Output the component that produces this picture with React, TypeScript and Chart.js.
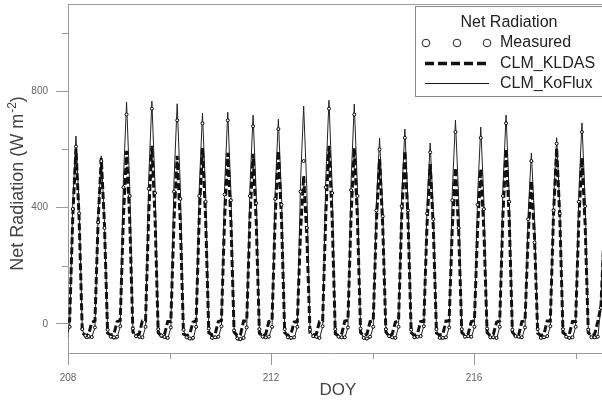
import React, { useEffect, useRef } from "react";
import { Chart, registerables } from "chart.js";

Chart.register(...registerables);

// Time grid: 3-hourly samples, one cycle = 8 samples
const T0 = 207.908;
const STEP = 0.0623;

// values per cycle at [-12h, -9h, -6h, -3h, noon, +3h, +6h, +9h]
const koflux: number[] = [
  -50, -48, -10, 420, 646, 400, -20, -50,
  -50, -46, -12, 376, 578, 358, -22, -48,
  -52, -50, -8, 496, 763, 473, -18, -46,
  -48, -50, -10, 498, 766, 475, -20, -44,
  -50, -52, -12, 492, 757, 469, -22, -50,
  -54, -55, -10, 471, 725, 450, -18, -52,
  -50, -48, -8, 473, 728, 451, -24, -55,
  -58, -52, -12, 467, 718, 445, -20, -48,
  -50, -47, -10, 458, 704, 436, -20, -50,
  -52, -50, -10, 487, 749, 464, -22, -45,
  -48, -52, -8, 500, 769, 477, -20, -48,
  -50, -50, -12, 491, 756, 469, -18, -52,
  -55, -48, -10, 415, 639, 396, -20, -46,
  -50, -52, -10, 436, 670, 415, -22, -50,
  -48, -45, -8, 404, 622, 386, -20, -52,
  -52, -50, -12, 456, 701, 435, -20, -48,
  -46, -48, -10, 440, 677, 420, -18, -50,
  -50, -52, -10, 467, 718, 445, -22, -46,
  -48, -50, -12, 382, 588, 365, -20, -52,
  -50, -46, -8, 416, 640, 397, -20, -48,
  -52, -50, -10, 449, 691, 428, -22, -50,
  -50, -48, 60, 455, 700, 434, -20, -48,
];

const kldas: number[] = [
  -35, 8, 10, 373, 602, 361, -30, -40,
  -36, 6, 10, 353, 570, 342, -32, -38,
  -35, 8, 12, 369, 595, 357, -28, -40,
  -34, 10, 10, 379, 612, 367, -30, -42,
  -36, 8, 8, 358, 578, 347, -35, -40,
  -35, 6, 10, 375, 605, 363, -30, -38,
  -35, 8, 12, 365, 588, 353, -28, -40,
  -38, 10, 10, 363, 585, 351, -32, -42,
  -35, 8, 10, 369, 595, 357, -30, -40,
  -34, 6, 8, 316, 509, 305, -30, -38,
  -35, 8, 10, 379, 612, 367, -34, -40,
  -36, 10, 12, 375, 605, 363, -30, -40,
  -35, 8, 10, 352, 567, 340, -28, -42,
  -35, 6, 10, 369, 595, 357, -30, -40,
  -34, 8, 8, 341, 550, 330, -32, -38,
  -36, 10, 10, 333, 537, 322, -30, -40,
  -35, 8, 12, 330, 533, 320, -30, -40,
  -35, 6, 10, 373, 602, 361, -28, -42,
  -38, 8, 10, 305, 492, 295, -32, -40,
  -35, 10, 10, 375, 605, 363, -30, -38,
  -35, 8, 8, 354, 571, 343, -30, -40,
  -36, 8, 60, 310, 500, 300, -30, -40,
];

const measured: number[] = [
  -44, -42, -10, 395, 610, 380, -18, -40,
  -42, -45, -12, 350, 560, 330, -20, -44,
  -46, -44, -8, 470, 720, 440, -16, -42,
  -44, -46, -10, 465, 740, 450, -18, -40,
  -45, -48, -12, 455, 700, 430, -20, -46,
  -50, -48, -10, 440, 690, 420, -16, -48,
  -46, -44, -8, 445, 700, 425, -22, -50,
  -52, -48, -12, 440, 680, 415, -18, -44,
  -46, -44, -10, 430, 670, 410, -18, -46,
  -48, -46, -10, 455, 560, 330, -20, -42,
  -44, -48, -8, 470, 740, 450, -18, -44,
  -46, -46, -12, 460, 720, 440, -16, -48,
  -50, -44, -10, 390, 600, 370, -18, -42,
  -46, -48, -10, 405, 640, 390, -20, -46,
  -44, -42, -8, 380, 590, 360, -18, -48,
  -48, -46, -12, 425, 660, 330, -18, -44,
  -42, -44, -10, 410, 640, 395, -16, -46,
  -46, -48, -10, 440, 690, 420, -20, -42,
  -44, -46, -12, 360, 560, 280, -18, -48,
  -46, -42, -8, 390, 620, 380, -18, -44,
  -48, -46, -10, 420, 660, 405, -20, -46,
  -46, -44, 55, 420, 650, 400, -18, -44,
];

const xTickValues = [208, 210, 212, 214, 216, 218];
const xTickLabels = ["208", "", "212", "", "216", ""];
const yTickValues = [0, 200, 400, 600, 800, 1000];
const yTickLabels = ["0", "", "400", "", "800", ""];
const xMajor = [208, 212, 216];
const yMajor = [0, 400, 800];

const FONT = "'Liberation Sans', Arial, sans-serif";
const AXIS_COLOR = "#9a9a9a";
const LABEL_COLOR = "#666";

const toXY = (arr: number[]) => arr.map((v, i) => ({ x: T0 + i * STEP, y: v }));

const decorPlugin = {
  id: "decor",
  afterDraw(chart: any) {
    const { ctx, chartArea, scales } = chart;
    const xs = scales.x;
    const ys = scales.y;
    ctx.save();
    // top border
    ctx.strokeStyle = AXIS_COLOR;
    ctx.lineWidth = 1;
    ctx.beginPath();
    ctx.moveTo(chartArea.left, chartArea.top + 0.5);
    ctx.lineTo(chartArea.right, chartArea.top + 0.5);
    ctx.stroke();
    // minor ticks
    ctx.beginPath();
    xTickValues.forEach((v) => {
      if (xMajor.includes(v)) return;
      const px = Math.round(xs.getPixelForValue(v)) + 0.5;
      ctx.moveTo(px, chartArea.bottom);
      ctx.lineTo(px, chartArea.bottom + 6);
    });
    yTickValues.forEach((v) => {
      if (yMajor.includes(v)) return;
      const py = Math.round(ys.getPixelForValue(v)) + 0.5;
      ctx.moveTo(chartArea.left, py);
      ctx.lineTo(chartArea.left - 6, py);
    });
    ctx.stroke();

    // x title
    ctx.fillStyle = "#444";
    ctx.font = `17px ${FONT}`;
    ctx.textAlign = "center";
    ctx.textBaseline = "middle";
    ctx.fillText("DOY", (chartArea.left + chartArea.right) / 2 + 3, 390);

    // y title with superscript
    const F = 18;
    const SF = 12;
    const main = "Net Radiation (W m";
    const sup = "-2";
    const close = ")";
    ctx.font = `${F}px ${FONT}`;
    const wMain = ctx.measureText(main).width;
    const wClose = ctx.measureText(close).width;
    ctx.font = `${SF}px ${FONT}`;
    const wSup = ctx.measureText(sup).width;
    const total = wMain + wSup + wClose + 1;
    ctx.translate(18, (chartArea.top + chartArea.bottom) / 2 + 5);
    ctx.rotate(-Math.PI / 2);
    ctx.textAlign = "left";
    ctx.textBaseline = "middle";
    ctx.font = `${F}px ${FONT}`;
    let cx = -total / 2;
    ctx.fillText(main, cx, 0);
    cx += wMain + 1;
    ctx.font = `${SF}px ${FONT}`;
    ctx.fillText(sup, cx, -F * 0.28);
    cx += wSup;
    ctx.font = `${F}px ${FONT}`;
    ctx.fillText(close, cx, 0);
    ctx.restore();

    // legend
    ctx.save();
    const bx = 415.5, by = 6.5, bw = 200, bh = 90;
    ctx.fillStyle = "#fff";
    ctx.fillRect(bx, by, bw, bh);
    ctx.strokeStyle = "#8a8a8a";
    ctx.lineWidth = 1;
    ctx.strokeRect(bx, by, bw, bh);
    ctx.fillStyle = "#222";
    ctx.font = `16px ${FONT}`;
    ctx.textBaseline = "middle";
    ctx.textAlign = "center";
    ctx.fillText("Net Radiation", 509, 23);
    ctx.textAlign = "left";
    // measured
    [426, 457, 487].forEach((x) => {
      ctx.beginPath();
      ctx.arc(x, 43, 3.8, 0, Math.PI * 2);
      ctx.fillStyle = "#fff";
      ctx.fill();
      ctx.strokeStyle = "#222";
      ctx.lineWidth = 1;
      ctx.stroke();
    });
    ctx.fillStyle = "#222";
    ctx.fillText("Measured", 500, 43);
    // kldas
    ctx.strokeStyle = "#111";
    ctx.lineWidth = 3.5;
    ctx.setLineDash([9, 4]);
    ctx.beginPath();
    ctx.moveTo(425, 63.5);
    ctx.lineTo(489, 63.5);
    ctx.stroke();
    ctx.setLineDash([]);
    ctx.fillText("CLM_KLDAS", 500, 64);
    // koflux
    ctx.lineWidth = 1;
    ctx.beginPath();
    ctx.moveTo(425, 83.5);
    ctx.lineTo(489, 83.5);
    ctx.stroke();
    ctx.fillText("CLM_KoFlux", 500, 83.5);
    ctx.restore();
  },
};

export default function App() {
  const ref = useRef<HTMLCanvasElement | null>(null);
  useEffect(() => {
    document.body.style.margin = "0";
    const canvas = ref.current;
    if (!canvas) return;
    const chart = new Chart(canvas, {
      type: "line",
      data: {
        datasets: [
          {
            label: "Measured",
            data: toXY(measured),
            showLine: false,
            pointRadius: 1.5,
            pointBorderWidth: 1,
            pointBackgroundColor: "#fff",
            pointBorderColor: "#000",
            borderColor: "#000",
          },
          {
            label: "CLM_KLDAS",
            data: toXY(kldas),
            borderColor: "#111",
            borderWidth: 3,
            borderDash: [7, 3],
            pointRadius: 0,
            tension: 0,
            fill: false,
          },
          {
            label: "CLM_KoFlux",
            data: toXY(koflux),
            borderColor: "#222",
            borderWidth: 1,
            pointRadius: 0,
            tension: 0,
            fill: false,
          },
        ],
      },
      options: {
        animation: false,
        responsive: false,
        devicePixelRatio: 1,
        layout: { autoPadding: false, padding: { top: 4, left: 0, right: 0, bottom: 0 } },
        plugins: { legend: { display: false }, tooltip: { enabled: false } },
        scales: {
          x: {
            type: "linear",
            min: 208,
            max: 218.52,
            afterBuildTicks: (s: any) => {
              s.ticks = xTickValues.map((v) => ({ value: v }));
            },
            afterFit: (s: any) => {
              s.height = 50;
              s.paddingLeft = 0;
              s.paddingRight = 0;
            },
            ticks: {
              autoSkip: false,
              maxRotation: 0,
              padding: 7,
              color: LABEL_COLOR,
              font: { family: FONT, size: 10 },
              callback: (v: any) => {
                const i = xTickValues.indexOf(Number(v));
                return i >= 0 ? xTickLabels[i] : "";
              },
            },
            grid: {
              display: true,
              drawOnChartArea: false,
              drawTicks: true,
              tickLength: 12,
              tickWidth: 1,
              tickColor: (c: any) =>
                c.tick && xMajor.includes(c.tick.value) ? AXIS_COLOR : "rgba(0,0,0,0)",
            },
            border: { display: true, color: AXIS_COLOR, width: 1 },
          },
          y: {
            type: "linear",
            min: -100,
            max: 1100,
            afterBuildTicks: (s: any) => {
              s.ticks = yTickValues.map((v) => ({ value: v }));
            },
            afterFit: (s: any) => {
              s.width = 68;
              s.paddingTop = 0;
              s.paddingBottom = 0;
            },
            ticks: {
              padding: 8,
              color: LABEL_COLOR,
              font: { family: FONT, size: 10 },
              callback: (v: any) => {
                const i = yTickValues.indexOf(Number(v));
                return i >= 0 ? yTickLabels[i] : "";
              },
            },
            grid: {
              display: true,
              drawOnChartArea: false,
              drawTicks: true,
              tickLength: 12,
              tickWidth: 1,
              tickColor: (c: any) =>
                c.tick && yMajor.includes(c.tick.value) ? AXIS_COLOR : "rgba(0,0,0,0)",
            },
            border: { display: true, color: AXIS_COLOR, width: 1 },
          },
        },
      },
      plugins: [decorPlugin],
    });
    return () => chart.destroy();
  }, []);
  return (
    <div style={{ width: 602, height: 403, background: "#fff" }}>
      <canvas ref={ref} width={602} height={403} style={{ display: "block" }} />
    </div>
  );
}
